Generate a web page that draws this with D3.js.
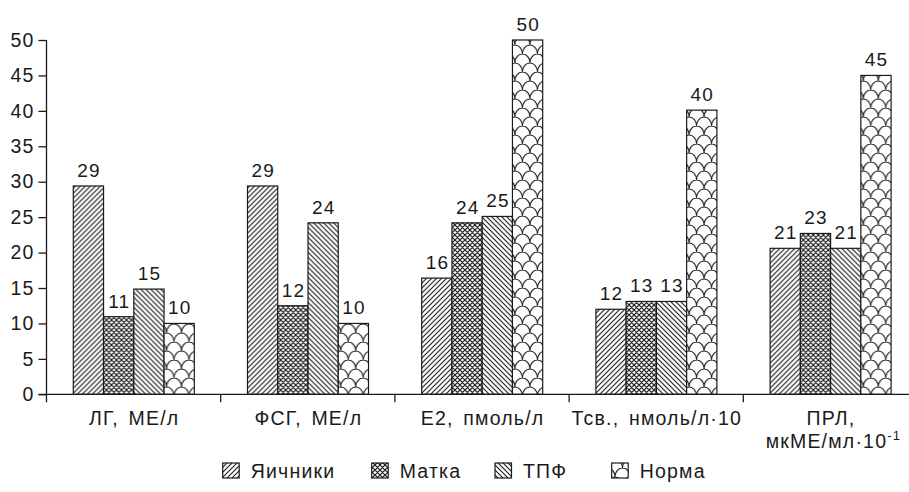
<!DOCTYPE html>
<html><head><meta charset="utf-8">
<script src="https://cdn.jsdelivr.net/npm/d3@7"></script>
<style>
html,body{margin:0;padding:0;background:#fff;}
svg text{font-family:"Liberation Sans",Arial,sans-serif;fill:#1a1a1a;letter-spacing:1.2px;}
</style></head>
<body>
<svg id="chart" width="909" height="492"></svg>
<script>
const categories = ["ЛГ, МЕ/л", "ФСГ, МЕ/л", "E2, пмоль/л", "Тсв., нмоль/л·10", "ПРЛ,"];
const seriesNames = ["Яичники", "Матка", "ТПФ", "Норма"];
const yachniki = [29.4, 29.4, 16.4, 12.0, 20.6];
const matka    = [10.95, 12.5, 24.2, 13.1, 22.7];
const tpf      = [14.85, 24.2, 25.1, 13.1, 20.6];
const norma    = [10.0, 10.0, 50, 40.1, 45];
const labelsYachniki = [29, 29, 16, 12, 21];
const labelsMatka    = [11, 12, 24, 13, 23];
const labelsTpf      = [15, 24, 25, 13, 21];
const labelsNorma    = [10, 10, 50, 40, 45];
const yTicks = [0, 5, 10, 15, 20, 25, 30, 35, 40, 45, 50];

const seriesValues = [yachniki, matka, tpf, norma];
const seriesLabels = [labelsYachniki, labelsMatka, labelsTpf, labelsNorma];

const svg = d3.select("#chart");
const defs = svg.append("defs");
const ink = "#1a1a1a";

// Patterns
function linePattern(id, d, w) {
  const p = defs.append("pattern").attr("id", id).attr("patternUnits", "userSpaceOnUse")
    .attr("width", 5).attr("height", 5);
  p.append("rect").attr("width", 5).attr("height", 5).attr("fill", "#fff");
  p.append("path").attr("d", d).attr("stroke", ink).attr("stroke-width", w).attr("fill", "none");
}
linePattern("p0", "M-1,1 L1,-1 M0,5 L5,0 M4,6 L6,4", 1.1);
linePattern("p1", "M-1,1 L1,-1 M0,5 L5,0 M4,6 L6,4 M-1,4 L1,6 M0,0 L5,5 M4,-1 L6,1", 1.2);
linePattern("p2", "M-1,4 L1,6 M0,0 L5,5 M4,-1 L6,1", 1.1);
(function() {
  const w = 15, h = 18;
  const p = defs.append("pattern").attr("id", "p3").attr("patternUnits", "userSpaceOnUse")
    .attr("width", w).attr("height", h);
  p.append("rect").attr("width", w).attr("height", h).attr("fill", "#fff");
  const d = `M0,9 A7.5,9 0 0 1 15,9 M-7.5,18 A7.5,9 0 0 1 7.5,18 A7.5,9 0 0 1 22.5,18`;
  p.append("path").attr("d", d).attr("stroke", ink).attr("stroke-width", 1.1).attr("fill", "none");
})();

const x0 = d3.scaleBand().domain(categories).range([46.5, 917.5]).padding(0);
const x1 = d3.scaleBand().domain(seriesNames).range([26.8, 147.8]).padding(0);
const y = d3.scaleLinear().domain([0, 50]).range([394.3, 40]);

// Bars
categories.forEach((c, i) => {
  const g = svg.append("g").attr("transform", `translate(${x0(c)},0)`);
  seriesNames.forEach((s, j) => {
    const v = seriesValues[j][i];
    g.append("rect")
      .attr("x", x1(s)).attr("y", y(v))
      .attr("width", x1.bandwidth()).attr("height", y(0) - y(v))
      .attr("fill", `url(#p${j})`).attr("stroke", ink).attr("stroke-width", 1.2);
    g.append("text")
      .attr("x", x1(s) + x1.bandwidth() / 2 + 0.6).attr("y", y(v) - 9)
      .attr("text-anchor", "middle").attr("font-size", 19)
      .text(seriesLabels[j][i]);
  });
});

// Y axis
const yAxis = d3.axisLeft(y).tickValues(yTicks).tickSize(8).tickPadding(4);
const yg = svg.append("g").attr("transform", "translate(46.5,0)").call(yAxis);
yg.select(".domain").remove();
yg.append("line").attr("x1", 0).attr("x2", 0).attr("y1", 40).attr("y2", y(0)).attr("stroke", ink).attr("stroke-width", 1.3);
yg.selectAll(".tick line").attr("stroke", ink).attr("stroke-width", 1.3);
yg.selectAll(".tick text").attr("font-size", 19.5).attr("fill", ink)
  .attr("font-family", '"Liberation Sans",Arial,sans-serif');

// X axis
const xg = svg.append("g");
xg.append("line").attr("x1", 38.5).attr("x2", 909).attr("y1", y(0)).attr("y2", y(0))
  .attr("stroke", ink).attr("stroke-width", 1.3);
const boundaries = categories.map(c => x0(c)).concat([x0.range()[1]]);
xg.selectAll("line.tk").data(boundaries).enter().append("line").attr("class", "tk")
  .attr("x1", d => d).attr("x2", d => d).attr("y1", y(0)).attr("y2", y(0) + 8)
  .attr("stroke", ink).attr("stroke-width", 1.3);
categories.forEach((c, i) => {
  const cx = x0(c) + x0.bandwidth() / 2 + 0.6;
  xg.append("text").attr("x", cx).attr("y", 425).attr("text-anchor", "middle")
    .attr("font-size", 19.5).attr("word-spacing", 3).text(c);
});
// second line for ПРЛ
{
  const c = categories[4];
  const cx = x0(c) + x0.bandwidth() / 2 + 3;
  const t = xg.append("text").attr("x", cx).attr("y", 448).attr("text-anchor", "middle").attr("font-size", 19.5);
  t.append("tspan").text("мкМЕ/мл·10");
  t.append("tspan").attr("dy", -8).attr("font-size", 13).text("-1");
}

// Legend
const legendX = [222.7, 371.7, 495, 611.7];
const lg = svg.append("g");
seriesNames.forEach((s, j) => {
  lg.append("rect").attr("x", legendX[j]).attr("y", 463).attr("width", 16.5).attr("height", 15)
    .attr("fill", `url(#p${j})`).attr("stroke", ink).attr("stroke-width", 1.2);
  lg.append("text").attr("x", legendX[j] + 28).attr("y", 478).attr("font-size", 19.5).text(s);
});
</script>
</body></html>
